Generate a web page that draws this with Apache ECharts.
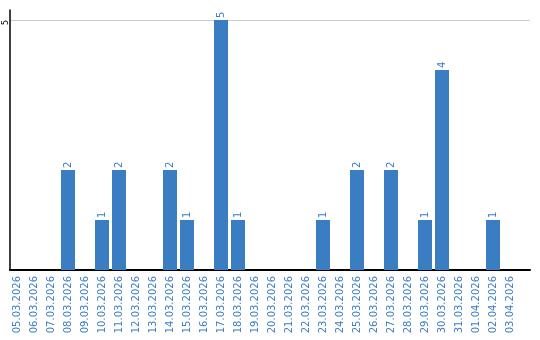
<!DOCTYPE html>
<html><head><meta charset="utf-8">
<script src="https://cdn.jsdelivr.net/npm/echarts@6/dist/echarts.min.js"></script>
<style>html,body{margin:0;padding:0;background:#fff}#c{width:540px;height:340px}</style>
</head><body><div id="c"></div>
<script>
var categories = ['05.03.2026','06.03.2026','07.03.2026','08.03.2026','09.03.2026','10.03.2026','11.03.2026','12.03.2026','13.03.2026','14.03.2026','15.03.2026','16.03.2026','17.03.2026','18.03.2026','19.03.2026','20.03.2026','21.03.2026','22.03.2026','23.03.2026','24.03.2026','25.03.2026','26.03.2026','27.03.2026','28.03.2026','29.03.2026','30.03.2026','31.03.2026','01.04.2026','02.04.2026','03.04.2026'];
var values = [0,0,0,2,0,1,2,0,0,2,1,0,5,1,0,0,0,0,1,0,2,0,2,0,1,4,0,0,1,0];
var yTicks = [0,5];

var blue = '#3b7dc3';
var font = 'DejaVu Sans';
var chart = echarts.init(document.getElementById('c'), null, {renderer:'canvas'});
var hidden = {axisLine:{show:false}, axisTick:{show:false}, axisLabel:{show:false}, splitLine:{show:false}};
chart.setOption({
  animation:false,
  grid:[
    {left:8.5, width:510, top:20, height:250},
    {left:10, right:10, top:20, bottom:70},
    {left:10, right:10, top:10, bottom:70}
  ],
  xAxis:[
    {type:'category', gridIndex:0, data:categories,
     axisLine:{show:false}, axisTick:{show:false},
     axisLabel:{rotate:90, interval:0, color:blue, fontFamily:font, fontSize:10, margin:6}},
    Object.assign({type:'value', gridIndex:1, min:0, max:1}, hidden),
    {type:'value', gridIndex:2, min:0, max:1,
     axisLine:{show:true, onZero:false, lineStyle:{color:'#000', width:2}},
     axisTick:{show:false}, axisLabel:{show:false}, splitLine:{show:false}}
  ],
  yAxis:[
    Object.assign({type:'value', gridIndex:0, min:yTicks[0], max:yTicks[yTicks.length-1], interval:5}, hidden),
    {type:'value', gridIndex:1, min:yTicks[0], max:yTicks[yTicks.length-1], interval:5,
     axisLine:{show:false}, axisTick:{show:false},
     axisLabel:{rotate:90, color:'#000', fontFamily:font, fontSize:8, margin:0,
       align:'right', verticalAlign:'bottom',
       formatter:function(v){return v ? String(v) : '';}},
     splitLine:{lineStyle:{color:'#cccccc', width:1}}},
    {type:'value', gridIndex:2, min:0, max:1,
     axisLine:{show:true, onZero:false, lineStyle:{color:'#000', width:1.5}},
     axisTick:{show:false}, axisLabel:{show:false}, splitLine:{show:false}}
  ],
  series:[{
    type:'bar', xAxisIndex:0, yAxisIndex:0, data:values, barWidth:14,
    itemStyle:{color:blue},
    label:{show:true, position:'top', rotate:90, align:'left', verticalAlign:'middle',
      distance:2, color:blue, fontFamily:font, fontSize:10,
      formatter:function(p){return p.value ? String(p.value) : '';}}
  }]
});
</script></body></html>
